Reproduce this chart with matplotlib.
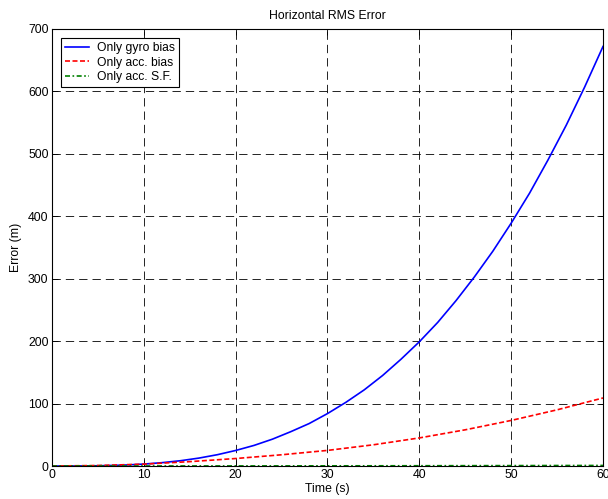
import matplotlib.pyplot as plt
import numpy as np

plt.rcParams['font.family'] = ['Liberation Sans', 'DejaVu Sans']

# values
t_gyro = [0, 2, 4, 6, 8, 10, 12, 14, 16, 18, 20, 22, 24, 26, 28, 30,
          32, 34, 36, 38, 40, 42, 44, 46, 48, 50, 52, 54, 56, 58, 60]
gyro_bias = [0, 0.03, 0.2, 0.7, 1.6, 3.1, 5.4, 8.5, 12.7, 18.1, 24.9, 33, 43, 55, 68, 84,
             102, 122, 145, 171, 199, 230, 265, 303, 344, 389, 437, 490, 546, 607, 672]

t_acc = [0, 5, 10, 15, 20, 25, 30, 35, 40, 45, 50, 55, 60]
acc_bias = [0, 0.8, 3, 7, 12, 18, 25, 34, 45, 58, 73, 90, 109]
acc_sf = [0, 0.02, 0.05, 0.1, 0.15, 0.2, 0.3, 0.35, 0.45, 0.55, 0.65, 0.8, 0.9]

x_ticks = [0, 10, 20, 30, 40, 50, 60]
y_ticks = [0, 100, 200, 300, 400, 500, 600, 700]

fig = plt.figure(figsize=(6.08, 4.99), dpi=100)
ax = fig.add_axes([0.0855, 0.0661, 0.9063, 0.8758])

ax.plot(t_gyro, gyro_bias, color='blue', lw=1.2, label='Only gyro bias')
ax.plot(t_acc, acc_bias, color='red', lw=1.2, ls=(0, (3, 1.5)), label='Only acc. bias')
ax.plot(t_acc, acc_sf, color='green', lw=1.2, ls=(0, (3, 1.5, 1, 1.5)), label='Only acc. S.F.')

ax.set_xlim(0, 60)
ax.set_ylim(0, 700)
ax.set_xticks(x_ticks)
ax.set_yticks(y_ticks)
ax.tick_params(direction='in', labelsize=8.8, length=4, width=0.6, top=True, right=True, pad=2.5)
ax.grid(True, color='black', linestyle=(0, (10, 6)), linewidth=0.6)
for s in ax.spines.values():
    s.set_linewidth(0.8)

ax.set_title('Horizontal RMS Error', fontsize=8.8, pad=7)
ax.set_xlabel('Time (s)', fontsize=8.8, labelpad=1)
ax.set_ylabel('Error (m)', fontsize=8.8, labelpad=4)

leg = ax.legend(loc='upper left', fontsize=8.7, fancybox=False, framealpha=1,
                edgecolor='black', handlelength=2.0, labelspacing=0.2,
                borderpad=0.35, borderaxespad=0.75, handletextpad=0.6)
leg.get_frame().set_linewidth(0.8)

plt.savefig('out.png', dpi=100)
